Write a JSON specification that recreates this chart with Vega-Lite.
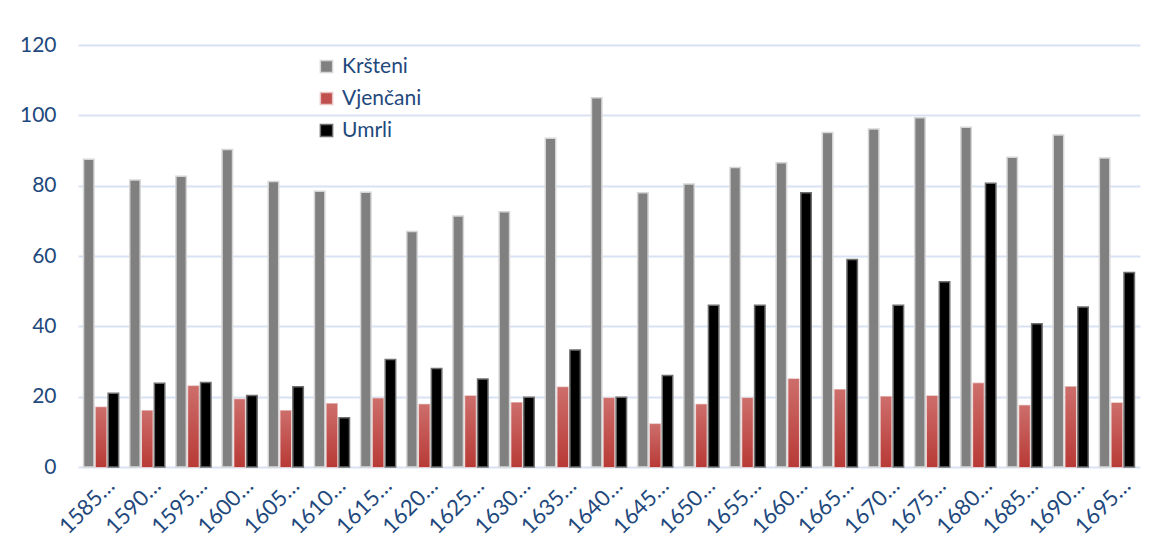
{
  "$schema": "https://vega.github.io/schema/vega-lite/v6.json",
  "width": 1062,
  "height": 422,
  "autosize": {"type": "none"},
  "padding": {"left": 78, "top": 45, "right": 33, "bottom": 83},
  "background": "white",
  "config": {
    "view": {"stroke": null},
    "font": "Lato",
    "axis": {"labelFont": "Lato", "labelColor": "#1F497D"},
    "legend": {"labelFont": "Lato", "labelColor": "#1F497D"}
  },
  "data": {
    "values": [
      {"period": "1585-1589", "Kršteni": 87.5, "Vjenčani": 17, "Umrli": 21},
      {"period": "1590-1594", "Kršteni": 81.6, "Vjenčani": 16, "Umrli": 23.8},
      {"period": "1595-1599", "Kršteni": 82.7, "Vjenčani": 23, "Umrli": 24},
      {"period": "1600-1604", "Kršteni": 90.3, "Vjenčani": 19.3, "Umrli": 20.3},
      {"period": "1605-1609", "Kršteni": 81.2, "Vjenčani": 16, "Umrli": 22.8},
      {"period": "1610-1614", "Kršteni": 78.4, "Vjenčani": 18, "Umrli": 14},
      {"period": "1615-1619", "Kršteni": 78.1, "Vjenčani": 19.5, "Umrli": 30.6},
      {"period": "1620-1624", "Kršteni": 67, "Vjenčani": 17.8, "Umrli": 28},
      {"period": "1625-1629", "Kršteni": 71.4, "Vjenčani": 20.2, "Umrli": 25},
      {"period": "1630-1634", "Kršteni": 72.6, "Vjenčani": 18.3, "Umrli": 19.8},
      {"period": "1635-1639", "Kršteni": 93.5, "Vjenčani": 22.7, "Umrli": 33.3},
      {"period": "1640-1644", "Kršteni": 105, "Vjenčani": 19.6, "Umrli": 19.8},
      {"period": "1645-1649", "Kršteni": 78, "Vjenčani": 12.2, "Umrli": 26},
      {"period": "1650-1654", "Kršteni": 80.5, "Vjenčani": 17.8, "Umrli": 46},
      {"period": "1655-1659", "Kršteni": 85.2, "Vjenčani": 19.6, "Umrli": 46},
      {"period": "1660-1664", "Kršteni": 86.5, "Vjenčani": 25, "Umrli": 78},
      {"period": "1665-1669", "Kršteni": 95.1, "Vjenčani": 22, "Umrli": 59},
      {"period": "1670-1674", "Kršteni": 96.1, "Vjenčani": 20, "Umrli": 46},
      {"period": "1675-1679", "Kršteni": 99.3, "Vjenčani": 20.2, "Umrli": 52.7},
      {"period": "1680-1684", "Kršteni": 96.6, "Vjenčani": 23.8, "Umrli": 80.7},
      {"period": "1685-1689", "Kršteni": 88.1, "Vjenčani": 17.5, "Umrli": 40.7},
      {"period": "1690-1694", "Kršteni": 94.4, "Vjenčani": 22.8, "Umrli": 45.5},
      {"period": "1695-1699", "Kršteni": 87.9, "Vjenčani": 18.2, "Umrli": 55.3}
    ]
  },
  "transform": [
    {"fold": ["Kršteni", "Vjenčani", "Umrli"], "as": ["series", "value"]}
  ],
  "encoding": {
    "x": {
      "field": "period",
      "type": "nominal",
      "sort": null,
      "scale": {"paddingInner": 0.24, "paddingOuter": 0.12},
      "axis": {
        "title": null,
        "labelAngle": -45,
        "labelAlign": "right",
        "labelBaseline": "middle",
        "labelFontSize": 22,
        "labelPadding": 15,
        "labelOffset": 10,
        "labelExpr": "substring(datum.label, 0, 4) + '…'",
        "ticks": false,
        "domain": false,
        "grid": false
      }
    },
    "xOffset": {
      "field": "series",
      "type": "nominal",
      "scale": {"domain": ["Kršteni", "Vjenčani", "Umrli"], "paddingInner": 0.15}
    },
    "y": {
      "field": "value",
      "type": "quantitative",
      "scale": {"domain": [0, 120]},
      "axis": {
        "title": null,
        "values": [0, 20, 40, 60, 80, 100, 120],
        "labelFontSize": 21,
        "labelPadding": 22,
        "ticks": false,
        "domain": false,
        "grid": true,
        "gridColor": "#d9e2f3",
        "gridWidth": 2
      }
    }
  },
  "layer": [
    {
      "mark": {"type": "bar", "strokeWidth": 1.5},
      "encoding": {
        "color": {
          "field": "series",
          "type": "nominal",
          "scale": {"domain": ["Kršteni", "Vjenčani", "Umrli"], "range": ["#808080", "#c0504d", "#000000"]},
          "legend": {
            "title": null,
            "orient": "none",
            "legendX": 238,
            "legendY": 11,
            "symbolType": "square",
            "symbolSize": 150,
            "symbolOpacity": 1,
            "labelFontSize": 21,
            "rowPadding": 10,
            "labelOffset": 5
          }
        },
        "stroke": {
          "field": "series",
          "type": "nominal",
          "scale": {"domain": ["Kršteni", "Vjenčani", "Umrli"], "range": ["#d6d6d6", "#e8c4c3", "#6e6e6e"]},
          "legend": null
        }
      }
    },
    {
      "transform": [{"filter": "datum.series === 'Vjenčani'"}],
      "mark": {
        "type": "bar",
        "fill": {
          "gradient": "linear",
          "x1": 0, "y1": 0, "x2": 0, "y2": 1,
          "stops": [
            {"offset": 0, "color": "#cd6e6b"},
            {"offset": 1, "color": "#b83a36"}
          ]
        }
      }
    }
  ]
}
